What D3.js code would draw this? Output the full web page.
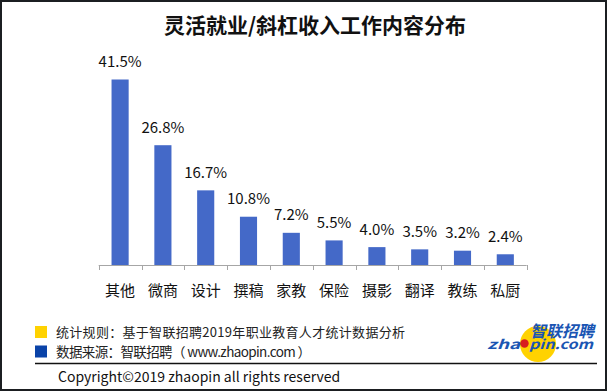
<!doctype html>
<html>
<head>
<meta charset="utf-8">
<script src="https://cdn.jsdelivr.net/npm/d3@7"></script>
<style>
  html, body { margin: 0; padding: 0; background: #fff; }
  svg { display: block; }
  text { font-family: "Noto Sans CJK SC", "Noto Sans", sans-serif; }
</style>
</head>
<body>
<script>
const categories = ["其他", "微商", "设计", "撰稿", "家教", "保险", "摄影", "翻译", "教练", "私厨"];
const shares = [41.5, 26.8, 16.7, 10.8, 7.2, 5.5, 4.0, 3.5, 3.2, 2.4];
const title = "灵活就业/斜杠收入工作内容分布";
const notes = [
  {color: "#ffd200", text: "统计规则：基于智联招聘2019年职业教育人才统计数据分析", size: 13, len: 349},
  {color: "#0a43a8", text: "数据来源：智联招聘（ www.zhaopin.com ）", size: 13.5, len: 255}
];
const copyright = "Copyright©2019 zhaopin all rights reserved";

const width = 607, height = 391;
const svg = d3.select("body").append("svg")
    .attr("width", width)
    .attr("height", height);

// frame
svg.append("rect")
    .attr("x", 1).attr("y", 1)
    .attr("width", width - 2).attr("height", height - 2)
    .attr("fill", "#fff")
    .attr("stroke", "#1b1e21")
    .attr("stroke-width", 2);

svg.append("text")
    .attr("x", 315).attr("y", 33)
    .attr("text-anchor", "middle")
    .attr("font-size", 21)
    .attr("font-weight", "bold")
    .attr("fill", "#111")
    .text(title);

const x = d3.scaleBand()
    .domain(categories)
    .range([98.7, 526.7])
    .paddingInner(0.6)
    .paddingOuter(0.3);

const y = d3.scaleLinear()
    .domain([0, 41.5])
    .range([265, 79.5]);

const chart = svg.append("g");

chart.selectAll("rect.bar")
  .data(shares)
  .join("rect")
    .attr("class", "bar")
    .attr("x", (d, i) => x(categories[i]))
    .attr("y", d => y(d))
    .attr("width", x.bandwidth())
    .attr("height", d => y(0) - y(d))
    .attr("fill", "#4469c8");

chart.selectAll("text.value")
  .data(shares)
  .join("text")
    .attr("class", "value")
    .attr("x", (d, i) => x(categories[i]) + x.bandwidth() / 2)
    .attr("y", d => y(d) - 12.5)
    .attr("text-anchor", "middle")
    .attr("font-size", 15)
    .attr("fill", "#111")
    .text(d => d.toFixed(1) + "%");

// axis with ticks at the band edges
const edges = categories.map(c => x(c) - x.step() * x.paddingInner() / 2).concat(x.range()[1]);
const axis = chart.append("g").attr("stroke", "#a6a6a6").attr("stroke-width", 1);
axis.append("line")
    .attr("x1", x.range()[0]).attr("x2", x.range()[1])
    .attr("y1", y(0) + 0.5).attr("y2", y(0) + 0.5);
axis.selectAll("line.tick")
  .data(edges)
  .join("line")
    .attr("class", "tick")
    .attr("x1", d => Math.round(d) + 0.5).attr("x2", d => Math.round(d) + 0.5)
    .attr("y1", y(0)).attr("y2", y(0) + 5);

chart.selectAll("text.cat")
  .data(categories)
  .join("text")
    .attr("class", "cat")
    .attr("x", d => x(d) + x.bandwidth() / 2)
    .attr("y", 296)
    .attr("text-anchor", "middle")
    .attr("font-size", 15)
    .attr("fill", "#111")
    .text(d => d);

// footer notes
const foot = svg.append("g");
notes.forEach((n, i) => {
  const yy = 326 + i * 19.5;
  foot.append("rect")
      .attr("x", 35).attr("y", yy)
      .attr("width", 12).attr("height", 12)
      .attr("fill", n.color);
  foot.append("text")
      .attr("x", 56).attr("y", yy + 11)
      .attr("font-size", n.size)
      .attr("fill", "#222")
      .attr("textLength", n.len)
      .attr("lengthAdjust", "spacing")
      .text(n.text);
});

foot.append("line")
    .attr("x1", 35).attr("x2", 597)
    .attr("y1", 363.5).attr("y2", 363.5)
    .attr("stroke", "#111")
    .attr("stroke-width", 1.3);

foot.append("text")
    .attr("x", 58).attr("y", 382)
    .attr("font-size", 14)
    .attr("fill", "#111")
    .text(copyright);

// logo
const logo = svg.append("g");
logo.append("circle")
    .attr("cx", 538).attr("cy", 344).attr("r", 18)
    .attr("fill", "#ffd200");
logo.append("text")
    .attr("x", 594).attr("y", 337)
    .attr("text-anchor", "end")
    .attr("font-size", 16)
    .attr("font-weight", "bold")
    .attr("font-style", "italic")
    .attr("fill", "#1a55b3")
    .text("智联招聘");
logo.append("text")
    .attr("x", 487).attr("y", 349)
    .attr("font-family", "'DejaVu Sans', sans-serif")
    .attr("font-size", 13)
    .attr("font-weight", "bold")
    .attr("font-style", "italic")
    .attr("fill", "#1a55b3")
    .attr("textLength", 33)
    .attr("lengthAdjust", "spacingAndGlyphs")
    .text("zha");
logo.append("circle")
    .attr("cx", 524.5).attr("cy", 343.5).attr("r", 4.2)
    .attr("fill", "#d81e1e");
logo.append("text")
    .attr("x", 529).attr("y", 349)
    .attr("font-family", "'DejaVu Sans', sans-serif")
    .attr("font-size", 13)
    .attr("font-weight", "bold")
    .attr("font-style", "italic")
    .attr("fill", "#1a55b3")
    .attr("textLength", 64)
    .attr("lengthAdjust", "spacingAndGlyphs")
    .text("pin.com");
</script>
</body>
</html>
